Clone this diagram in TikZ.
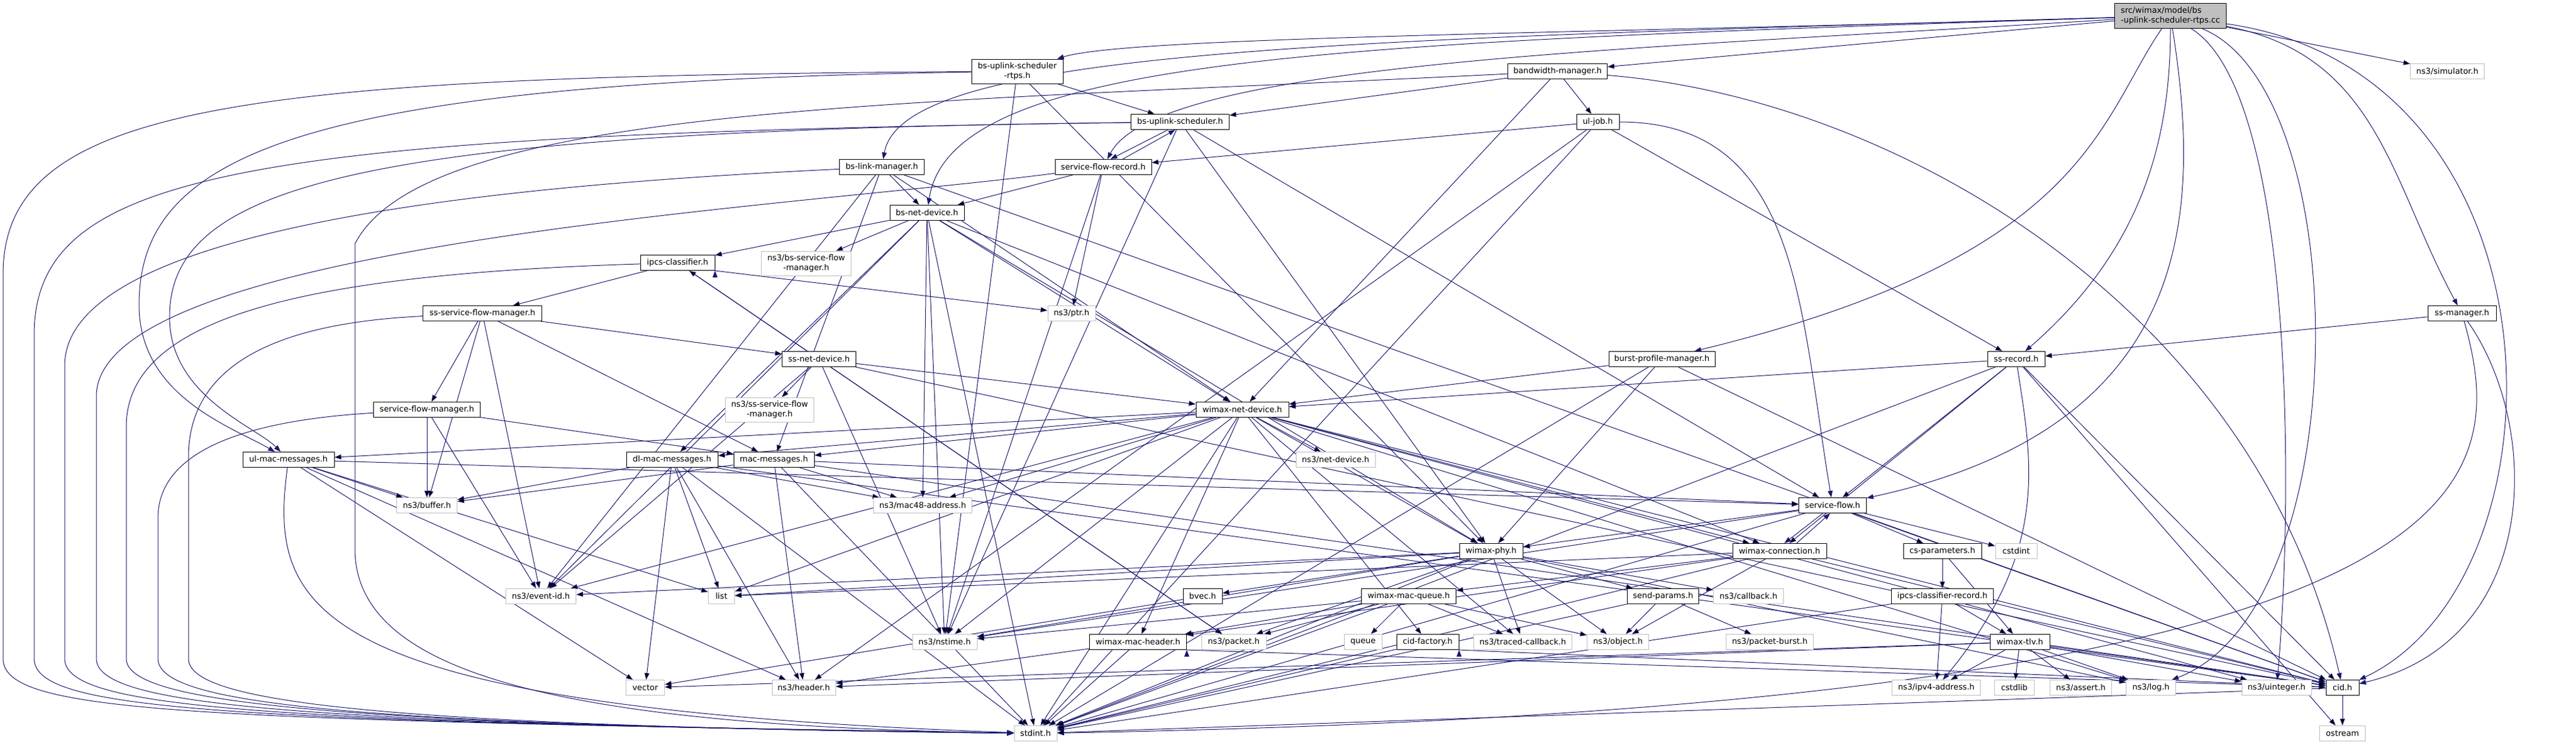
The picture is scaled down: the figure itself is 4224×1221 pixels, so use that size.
\documentclass[tikz,border=0pt]{standalone}
\usepackage{fontspec}
\setmainfont{DejaVu Sans}
\usetikzlibrary{arrows.meta,backgrounds}
\definecolor{edgeblue}{RGB}{25,25,112}
\definecolor{extgray}{RGB}{191,191,191}
\tikzset{
  hfile/.style={draw=black, fill=white, line width=0.5pt, font=\fontsize{6.6}{7.8}\selectfont, inner sep=1pt, minimum height=12.5pt},
  hext/.style={hfile, draw=extgray},
  hmain/.style={hfile, fill=extgray},
  dep/.style={draw=edgeblue, line width=0.5pt, -{Triangle[length=5.5pt,width=4pt]}}
}
\begin{document}
\begin{tikzpicture}[x=0.5pt, y=-0.5pt]
\useasboundingbox (0,0) rectangle (4224,1221);
\node[hmain, minimum width=91.5pt, minimum height=20.5pt, align=left] (main) at (3559,26) {src/wimax/model/bs\\-uplink-scheduler-rtps.cc};
\node[hfile, minimum width=75pt, minimum height=20pt, align=center] (rtps) at (1668,117) {bs-uplink-scheduler\\-rtps.h};
\node[hfile, minimum width=80.5pt] (bsus) at (1935,200) {bs-uplink-scheduler.h};
\node[hfile, minimum width=81.5pt] (bwm) at (2554,117) {bandwidth-manager.h};
\node[hfile, minimum width=35pt] (uljob) at (2620,200) {ul-job.h};
\node[hext, minimum width=60.5pt] (simulator) at (4013,117) {ns3/simulator.h};
\node[hfile, minimum width=69.5pt] (blm) at (1446,274) {bs-link-manager.h};
\node[hfile, minimum width=79pt] (sfr) at (1809,274) {service-flow-record.h};
\node[hfile, minimum width=61pt] (bsnd) at (1520,349) {bs-net-device.h};
\node[hfile, minimum width=61pt] (ipcs) at (1111,431) {ipcs-classifier.h};
\node[hext, minimum width=73.5pt, minimum height=20pt, align=center] (bssfm) at (1322,432) {ns3/bs-service-flow\\-manager.h};
\node[hext, minimum width=39pt] (ptr) at (1757,514) {ns3/ptr.h};
\node[hfile, minimum width=97.5pt] (sssfm) at (791,514) {ss-service-flow-manager.h};
\node[hfile, minimum width=60.5pt] (ssnd) at (1343,589) {ss-net-device.h};
\node[hext, minimum width=72.5pt, minimum height=20pt, align=center] (sssfmext) at (1262,672) {ns3/ss-service-flow\\-manager.h};
\node[hfile, minimum width=87.5pt] (sfm) at (700,672) {service-flow-manager.h};
\node[hfile, minimum width=87pt] (bpm) at (2725,589) {burst-profile-manager.h};
\node[hfile, minimum width=47pt] (ssrec) at (3306,589) {ss-record.h};
\node[hfile, minimum width=56pt] (ssmgr) at (4037,514) {ss-manager.h};
\node[hfile, minimum width=76pt] (wnd) at (2037,672) {wimax-net-device.h};
\node[hext, minimum width=65pt] (netdev) at (2190,754) {ns3/net-device.h};
\node[hfile, minimum width=75pt] (ulmac) at (473,754) {ul-mac-messages.h};
\node[hfile, minimum width=75pt] (dlmac) at (1102,754) {dl-mac-messages.h};
\node[hfile, minimum width=66pt] (mac) at (1269,754) {mac-messages.h};
\node[hext, minimum width=49.5pt] (buffer) at (700,829) {ns3/buffer.h};
\node[hext, minimum width=80.5pt] (mac48) at (1513,829) {ns3/mac48-address.h};
\node[hfile, minimum width=55.5pt] (sf) at (3005,829) {service-flow.h};
\node[hext, minimum width=34pt] (cstdint) at (3306,904) {cstdint};
\node[hext, minimum width=57.5pt] (eventid) at (887,978) {ns3/event-id.h};
\node[hext, minimum width=21.5pt] (list) at (1183,978) {list};
\node[hfile, minimum width=52pt] (phy) at (2445,904) {wimax-phy.h};
\node[hfile, minimum width=77pt] (conn) at (2918,904) {wimax-connection.h};
\node[hfile, minimum width=64pt] (csp) at (3185,904) {cs-parameters.h};
\node[hfile, minimum width=32pt] (bvec) at (1972,978) {bvec.h};
\node[hfile, minimum width=77.5pt] (macq) at (2310,978) {wimax-mac-queue.h};
\node[hfile, minimum width=58.5pt] (sendp) at (2727,978) {send-params.h};
\node[hext, minimum width=57.5pt] (callback) at (2867,978) {ns3/callback.h};
\node[hfile, minimum width=83.5pt] (ipcsrec) at (3185,978) {ipcs-classifier-record.h};
\node[hext, minimum width=53pt] (nstime) at (1549,1053) {ns3/nstime.h};
\node[hfile, minimum width=79.5pt] (wmh) at (1866,1053) {wimax-mac-header.h};
\node[hext, minimum width=53pt] (packet) at (2023,1053) {ns3/packet.h};
\node[hext, minimum width=31pt] (queue) at (2235,1053) {queue};
\node[hfile, minimum width=51pt] (cidf) at (2341,1053) {cid-factory.h};
\node[hext, minimum width=80.5pt] (traced) at (2497,1053) {ns3/traced-callback.h};
\node[hext, minimum width=50.5pt] (object) at (2653,1053) {ns3/object.h};
\node[hext, minimum width=71.5pt] (pburst) at (2902,1053) {ns3/packet-burst.h};
\node[hfile, minimum width=49pt] (tlv) at (3312,1053) {wimax-tlv.h};
\node[hext, minimum width=31.5pt] (vector) at (1058,1128) {vector};
\node[hext, minimum width=52pt] (header) at (1318,1128) {ns3/header.h};
\node[hext, minimum width=72.5pt] (ipv4) at (3175,1128) {ns3/ipv4-address.h};
\node[hext, minimum width=32.5pt] (cstdlib) at (3303,1128) {cstdlib};
\node[hext, minimum width=50.5pt] (assert) at (3412,1128) {ns3/assert.h};
\node[hext, minimum width=40.5pt] (log) at (3527,1128) {ns3/log.h};
\node[hext, minimum width=57pt] (uint) at (3733,1128) {ns3/uinteger.h};
\node[hfile, minimum width=27pt] (cid) at (3841,1128) {cid.h};
\node[hext, minimum width=37.5pt] (ostream) at (3841,1203) {ostream};
\node[hext, minimum width=35pt] (stdint) at (1698,1203) {stdint.h};
\begin{scope}[on background layer]
\draw[dep] (main) edge (bwm) edge (simulator);
\draw[dep] (main) .. controls (2600,55) and (1850,60) .. (rtps);
\draw[dep] (main) .. controls (2200,65) and (1480,80) .. (blm);
\draw[dep] (main) .. controls (2200,70) and (1560,90) .. (bsnd);
\draw[dep] (main) .. controls (2700,80) and (1900,100) .. (sfr);
\draw[dep] (main) .. controls (3440,200) and (3420,420) .. (bpm);
\draw[dep] (main) .. controls (3559,250) and (3500,420) .. (ssrec);
\draw[dep] (main) .. controls (3610,350) and (3600,700) .. (sf);
\draw[dep] (main) .. controls (3760,150) and (3762,800) .. (uint);
\draw[dep] (main) .. controls (3865,150) and (3865,1000) .. (log);
\draw[dep] (main) .. controls (3900,90) and (3920,300) .. (ssmgr);
\draw[dep] (main) .. controls (4218,120) and (4218,950) .. (cid);
\draw[dep] (rtps) edge (bsus) edge (nstime) edge (phy);
\draw[dep] (rtps) .. controls (400,125) and (5,170) .. (5,450) -- (5,1080) .. controls (5,1170) and (300,1180) .. (stdint);
\draw[dep] (rtps) .. controls (500,135) and (228,250) .. (228,500) .. controls (228,650) and (380,700) .. (ulmac);
\draw[dep] (bsus) edge (nstime) edge (phy) edge (sf);
\draw[dep] ([xshift=-10pt]bsus.south) -- ([xshift=6pt]sfr.north);
\draw[dep] ([xshift=16pt]sfr.north) -- ([xshift=-4pt]bsus.south);
\draw[dep] (bsus) .. controls (600,215) and (278,300) .. (278,520) .. controls (278,650) and (420,700) .. (ulmac);
\draw[dep] (bsus) .. controls (400,220) and (56,280) .. (56,550) -- (56,1080) .. controls (56,1165) and (350,1182) .. (stdint);
\draw[dep] (bwm) edge (bsus) edge (uljob) edge (wnd);
\draw[dep] (bwm) .. controls (3100,160) and (3700,500) .. (cid);
\draw[dep] (bwm) .. controls (1500,170) and (700,170) .. (582,400) -- (582,900) .. controls (582,1100) and (900,1190) .. (stdint);
\draw[dep] (uljob) edge (sfr) edge (ssrec) edge (header) edge (stdint);
\draw[dep] (uljob) .. controls (2950,200) and (2950,500) .. (sf);
\draw[dep] (blm) edge (bsnd) edge (wnd) edge (cid) edge (mac) edge (eventid);
\draw[dep] (blm) .. controls (900,300) and (106,360) .. (106,600) -- (106,1080) .. controls (106,1160) and (400,1184) .. (stdint);
\draw[dep] (sfr) edge (bsnd) edge (ptr) edge (nstime);
\draw[dep] (sfr) .. controls (1300,340) and (158,400) .. (158,650) -- (158,1080) .. controls (158,1155) and (450,1186) .. (stdint);
\draw[dep] (bsnd) edge (ipcs) edge (bssfm) edge (wnd) edge (mac48) edge (nstime) edge (eventid) edge (dlmac) edge (conn) edge (phy) edge (stdint);
\draw[dep] (ipcs.south east) edge (ptr);
\draw[dep] (ipcs) edge (sssfm) edge (packet);
\draw[dep] (ipcs) .. controls (500,450) and (207,520) .. (207,700) -- (207,1080) .. controls (207,1150) and (500,1188) .. (stdint);
\draw[dep] (sssfm) edge (ssnd) edge (sfm) edge (eventid) edge (mac) edge (buffer);
\draw[dep] (sssfm) .. controls (450,530) and (309,600) .. (309,750) -- (309,1080) .. controls (309,1145) and (550,1190) .. (stdint);
\draw[dep] (ssnd) edge (ipcs) edge (sssfmext) edge (wnd) edge (eventid) edge (nstime) edge (cid) edge (packet);
\draw[dep] (sfm) edge (buffer) edge (eventid) edge (mac);
\draw[dep] (sfm) .. controls (400,690) and (259,740) .. (259,850) -- (259,1080) .. controls (259,1150) and (520,1189) .. (stdint);
\draw[dep] (bpm) edge (wnd) edge (phy) edge (cid) edge (stdint);
\draw[dep] (ssrec) edge (wnd) edge (sf) edge (conn) edge (cid) edge (ostream) edge (stdint);
\draw[dep] (ssrec) .. controls (3330,750) and (3365,900) .. (ipv4);
\draw[dep] (ssmgr) edge (ssrec);
\draw[dep] (ssmgr) .. controls (4168,700) and (4168,1050) .. (cid);
\draw[dep] (ssmgr) .. controls (4117,800) and (4100,1160) .. (stdint);
\draw[dep] (wnd) edge (ulmac) edge (dlmac) edge (mac) edge (mac48) edge (eventid) edge (netdev) edge (phy) edge (conn) edge (wmh) edge (nstime) edge (traced) edge (cid) edge (log) edge (uint) edge (list) edge (cidf) edge (stdint);
\draw[dep] (ulmac) edge (buffer) edge (list) edge (header) edge (vector) edge (sf);
\draw[dep] (ulmac) .. controls (440,1000) and (500,1160) .. (stdint);
\draw[dep] (dlmac) edge (buffer) edge (list) edge (header) edge (vector) edge (mac48) edge (stdint) edge (cid);
\draw[dep] (mac) edge (buffer) edge (mac48) edge (header) edge (stdint) edge (sf) edge (cid);
\draw[dep] (sf) edge (phy) edge (csp) edge (cstdint) edge (cid) edge (stdint) edge (nstime);
\draw[dep] ([xshift=-8pt]sf.south) -- ([xshift=4pt]conn.north);
\draw[dep] ([xshift=14pt]conn.north) -- ([xshift=-2pt]sf.south);
\draw[dep] (conn) edge (object) edge (cid) edge (wmh) edge (macq) edge (stdint) edge (list);
\draw[dep] (phy) edge (eventid) edge (list) edge (nstime) edge (bvec) edge (stdint) edge (traced) edge (object) edge (sendp) edge (callback) edge (log) edge (packet);
\draw[dep] (csp) edge (ipcsrec) edge (tlv);
\draw[dep] (ipcsrec) edge (ipv4) edge (tlv) edge (stdint);
\draw[dep] (macq) edge (wmh) edge (packet) edge (traced) edge (object) edge (queue) edge (nstime) edge (stdint);
\draw[dep] (sendp) edge (object) edge (pburst) edge (stdint);
\draw[dep] (cidf.south east) edge (cid);
\draw[dep] (cidf) edge (stdint);
\draw[dep] (wmh.south east) edge (cid);
\draw[dep] (wmh) edge (header) edge (stdint);
\draw[dep] (bvec) edge (vector);
\draw[dep] (tlv) edge (ipv4) edge (cstdlib) edge (assert) edge (log) edge (uint) edge (vector) edge (header) edge (cid);
\draw[dep] (cid) edge (ostream) edge (stdint);
\end{scope}
\end{tikzpicture}
\end{document}
